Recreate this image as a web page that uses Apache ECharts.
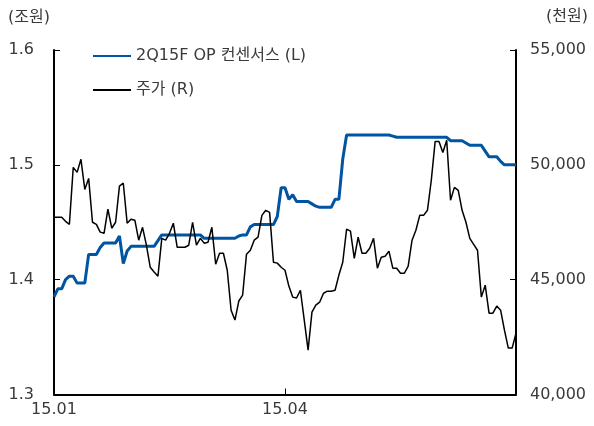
<!DOCTYPE html>
<html>
<head>
<meta charset="utf-8">
<script src="https://cdn.jsdelivr.net/npm/echarts@6/dist/echarts.min.js"></script>
<style>
html,body{margin:0;padding:0;background:#fff;}
#chart{width:594px;height:426px;}
</style>
</head>
<body>
<div id="chart"></div>
<script>
// ---- data ----
var xTickLabels = {0: '15.01', 60: '15.04'};
var seriesNames = ['2Q15F OP 컨센서스 (L)', '주가 (R)'];
var opConsensus = [
  1.385, 1.392, 1.392, 1.400, 1.403, 1.403, 1.397, 1.397, 1.397, 1.422,
  1.422, 1.422, 1.428, 1.432, 1.432, 1.432, 1.432, 1.438, 1.414, 1.425,
  1.429, 1.429, 1.429, 1.429, 1.429, 1.429, 1.429, 1.434, 1.439, 1.439,
  1.439, 1.439, 1.439, 1.439, 1.439, 1.439, 1.439, 1.439, 1.439, 1.436,
  1.436, 1.436, 1.436, 1.436, 1.436, 1.436, 1.436, 1.436, 1.438, 1.439,
  1.439, 1.446, 1.448, 1.448, 1.448, 1.448, 1.448, 1.448, 1.455, 1.480,
  1.480, 1.470, 1.474, 1.468, 1.468, 1.468, 1.468, 1.466, 1.464, 1.463,
  1.463, 1.463, 1.463, 1.470, 1.470, 1.505, 1.526, 1.526, 1.526, 1.526,
  1.526, 1.526, 1.526, 1.526, 1.526, 1.526, 1.526, 1.526, 1.525, 1.524,
  1.524, 1.524, 1.524, 1.524, 1.524, 1.524, 1.524, 1.524, 1.524, 1.524,
  1.524, 1.524, 1.524, 1.521, 1.521, 1.521, 1.521, 1.519, 1.517, 1.517,
  1.517, 1.517, 1.512, 1.507, 1.507, 1.507, 1.503, 1.500, 1.500, 1.500,
  1.500
];
var stockPrice = [
  47720, 47720, 47720, 47540, 47410, 49890, 49670, 50240, 48930, 49410,
  47500, 47410, 47070, 47020, 48070, 47240, 47500, 49070, 49200, 47460,
  47630, 47590, 46720, 47280, 46500, 45540, 45330, 45150, 46800, 46720,
  47020, 47460, 46410, 46410, 46410, 46500, 47500, 46500, 46800, 46590,
  46630, 47280, 45670, 46150, 46150, 45410, 43670, 43240, 44070, 44330,
  46110, 46280, 46720, 46850, 47800, 48020, 47930, 45760, 45720, 45540,
  45410, 44720, 44240, 44200, 44540, 43240, 41930, 43590, 43890, 44020,
  44410, 44500, 44500, 44540, 45200, 45760, 47200, 47110, 45930, 46850,
  46150, 46150, 46370, 46800, 45500, 45980, 46020, 46240, 45500, 45500,
  45280, 45280, 45590, 46720, 47150, 47800, 47800, 48020, 49330, 51020,
  51020, 50540, 51070, 48460, 49020, 48890, 48020, 47500, 46800, 46540,
  46280, 44240, 44760, 43540, 43540, 43850, 43670, 42800, 42020, 42020,
  42670
];
var categories = stockPrice.map(function (_, i) { return String(i); });
var leftTicks = {min: 1.3, max: 1.6, interval: 0.1};
var rightTicks = {min: 40000, max: 55000, interval: 5000};

// ---- chart ----
var chart = echarts.init(document.getElementById('chart'), null, {renderer: 'canvas'});
var FONT = '"DejaVu Sans", "Noto Sans CJK KR", sans-serif';
var TXT = '#3a3a3a';
function showTick(i) { return xTickLabels.hasOwnProperty(i); }

chart.setOption({
  animation: false,
  backgroundColor: '#ffffff',
  textStyle: {fontFamily: FONT},
  grid: {left: 54, right: 78, top: 50, bottom: 31.5, containLabel: false},
  legend: {
    orient: 'vertical',
    left: 87,
    top: 43,
    itemWidth: 38,
    itemHeight: 14,
    itemGap: 18,
    itemStyle: {opacity: 0},
    textStyle: {fontFamily: FONT, fontSize: 16, color: TXT},
    data: seriesNames
  },
  graphic: [
    {type: 'text', left: 8, top: 10, style: {text: '(조원)', font: '16px ' + FONT, fill: TXT}},
    {type: 'text', right: 6, top: 9, style: {text: '(천원)', font: '16px ' + FONT, fill: TXT}}
  ],
  xAxis: {
    type: 'category',
    data: categories,
    boundaryGap: false,
    axisLine: {lineStyle: {color: '#000', width: 2}},
    axisTick: {inside: true, length: 6, interval: function (i) { return showTick(i); }, lineStyle: {color: '#000', width: 1}},
    axisLabel: {
      interval: function (i) { return showTick(i); },
      formatter: function (v, i) { return xTickLabels[i] || ''; },
      fontFamily: FONT, fontSize: 16, color: TXT, margin: 7
    },
    splitLine: {show: false}
  },
  yAxis: [
    {
      type: 'value',
      position: 'left',
      min: leftTicks.min, max: leftTicks.max, interval: leftTicks.interval,
      axisLine: {show: true, lineStyle: {color: '#000', width: 2}},
      axisTick: {show: true, inside: true, length: 6, lineStyle: {color: '#000', width: 1}},
      axisLabel: {formatter: function (v) { return v.toFixed(1); }, fontFamily: FONT, fontSize: 16, color: TXT, margin: 20},
      splitLine: {show: false}
    },
    {
      type: 'value',
      position: 'right',
      min: rightTicks.min, max: rightTicks.max, interval: rightTicks.interval,
      axisLine: {show: true, lineStyle: {color: '#000', width: 2}},
      axisTick: {show: true, inside: true, length: 6, lineStyle: {color: '#000', width: 1}},
      axisLabel: {formatter: function (v) { return v.toLocaleString('en-US'); }, fontFamily: FONT, fontSize: 16, color: TXT, margin: 14},
      splitLine: {show: false}
    }
  ],
  series: [
    {
      name: seriesNames[0],
      type: 'line',
      yAxisIndex: 0,
      data: opConsensus,
      symbol: 'none',
      lineStyle: {color: '#0055a2', width: 3},
      itemStyle: {color: '#0055a2'},
      z: 2
    },
    {
      name: seriesNames[1],
      type: 'line',
      yAxisIndex: 1,
      data: stockPrice,
      symbol: 'none',
      lineStyle: {color: '#000000', width: 1.5},
      itemStyle: {color: '#000000'},
      z: 3
    }
  ]
});
</script>
</body>
</html>
